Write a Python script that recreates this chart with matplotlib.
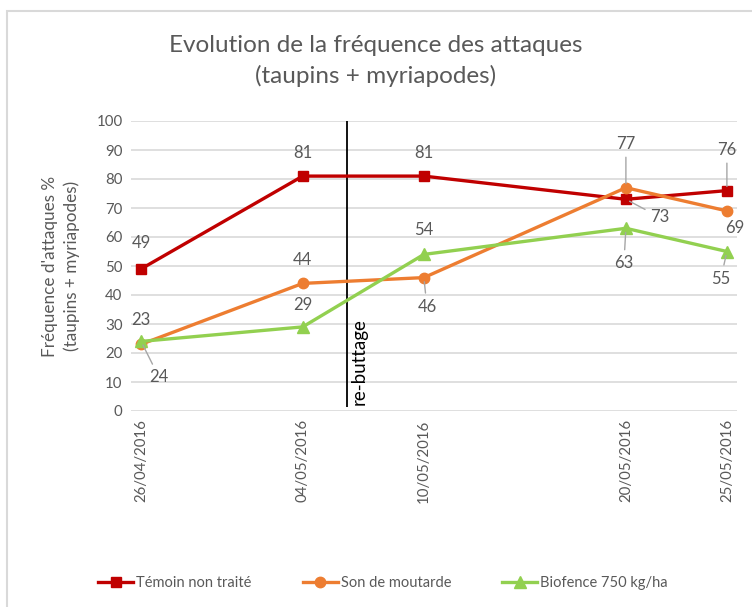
import matplotlib
matplotlib.use("Agg")
import matplotlib.pyplot as plt
import matplotlib.dates as mdates
import pandas as pd
from matplotlib.patches import Rectangle

dates = pd.to_datetime(["2016-04-26", "2016-05-04", "2016-05-10", "2016-05-20", "2016-05-25"])
temoin = [49, 81, 81, 73, 76]
moutarde = [23, 44, 46, 77, 69]
biofence = [24, 29, 54, 63, 55]
rebuttage = pd.Timestamp("2016-05-06 05:00")

series = [
    ("Témoin non traité", temoin, "#C00000", "s"),
    ("Son de moutarde", moutarde, "#ED7D31", "o"),
    ("Biofence 750 kg/ha", biofence, "#92D050", "^"),
]

# label offsets in pixels (dx, dy), and whether a leader line is drawn
offsets = {
    "Témoin non traité": [(0, 26, 0), (0, 23, 0), (0, 23, 0), (34, -18, 1), (0, 41, 1)],
    "Son de moutarde": [(0, 24, 0), (0, 23, 0), (3, -29, 1), (0, 44, 1), (8, -17, 0)],
    "Biofence 750 kg/ha": [(18, -36, 1), (0, 22, 0), (0, 24, 0), (-2, -35, 1), (-6, -27, 1)],
}

TXT = "#595959"
plt.rcParams["font.family"] = ["Lato", "DejaVu Sans"]

fig = plt.figure(figsize=(7.52, 6.07), dpi=100)
fig.patches.append(Rectangle((7 / 752, -0.1), 1.2, (607 - 11) / 607 + 0.1, transform=fig.transFigure,
                             fill=False, edgecolor="#D9D9D9", lw=1.5))
ax = fig.add_axes([131 / 752, 196 / 607, 606 / 752, 290 / 607])

for name, vals, col, mk in series:
    ax.plot(dates, vals, color=col, lw=2.4, marker=mk, markersize=7.5 if mk != "^" else 8.5,
            label=name, zorder=3)
    for d, v, (dx, dy, lead) in zip(dates, vals, offsets[name]):
        ap = dict(arrowstyle="-", color="#A6A6A6", lw=1, shrinkA=2, shrinkB=3) if lead else None
        ax.annotate(str(v), (d, v), xytext=(dx, dy), textcoords="offset pixels",
                    ha="center", va="center", fontsize=12, color=TXT, arrowprops=ap, zorder=4)

ax.vlines(rebuttage, 1.5, 100, color="black", lw=1.3, zorder=2)
ax.text(rebuttage + pd.Timedelta(hours=14), 2, "re-buttage", rotation=90, ha="center", va="bottom",
        fontsize=13.5, color="black")

ax.set_xlim(pd.Timestamp("2016-04-25 12:00"), pd.Timestamp("2016-05-25 12:00"))
ax.set_ylim(0, 100)
ax.set_yticks(range(0, 101, 10))
ax.set_xticks(dates)
ax.xaxis.set_major_formatter(mdates.DateFormatter("%d/%m/%Y"))
plt.setp(ax.get_xticklabels(), rotation=90)
ax.tick_params(length=0, labelsize=10.8, colors=TXT, pad=6)
ax.grid(axis="y", color="#D9D9D9", lw=1.2)
ax.set_axisbelow(True)
for s in ax.spines.values():
    s.set_visible(False)

ax.set_ylabel("Fréquence d'attaques %\n(taupins + myriapodes)", fontsize=12.3, color=TXT,
              labelpad=12, linespacing=1.35)
fig.text(0.5, 1 - 61 / 607, "Evolution de la fréquence des attaques\n(taupins + myriapodes)",
         ha="center", va="center", fontsize=17.5, color=TXT, linespacing=1.5)

fig.legend(loc="center", bbox_to_anchor=(383 / 752, 1 - 583 / 607), ncol=3, frameon=False,
           fontsize=10.5, labelcolor=TXT, handlelength=2.4, columnspacing=3.5, handletextpad=0.2)

fig.savefig("out.png", dpi=100)
